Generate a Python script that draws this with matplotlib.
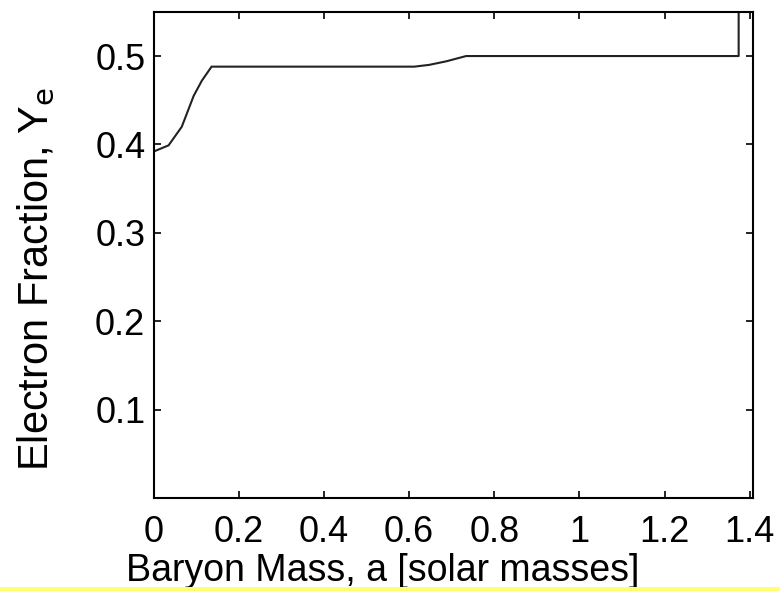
import matplotlib.pyplot as plt
from matplotlib.patches import Rectangle

# profile
mass = [0.0, 0.035, 0.066, 0.094, 0.113, 0.136, 0.25, 0.612, 0.647, 0.687, 0.734, 1.374, 1.374]
ye = [0.392, 0.399, 0.42, 0.455, 0.472, 0.488, 0.488, 0.488, 0.490, 0.494, 0.500, 0.500, 0.56]

xticks = [0, 0.2, 0.4, 0.6, 0.8, 1.0, 1.2, 1.4]
xticklabels = ["0", "0.2", "0.4", "0.6", "0.8", "1", "1.2", "1.4"]
yticks = [0.1, 0.2, 0.3, 0.4, 0.5]
yticklabels = ["0.1", "0.2", "0.3", "0.4", "0.5"]

plt.rcParams["font.family"] = ["Liberation Sans", "DejaVu Sans"]

fig = plt.figure(figsize=(7.8, 5.91), dpi=100)
ax = fig.add_axes([0.197, 0.157, 0.768, 0.823])

ax.plot(mass, ye, color="#222222", lw=1.5)

ax.set_xlim(0, 1.407)
ax.set_ylim(0, 0.55)
ax.set_xticks(xticks)
ax.set_xticklabels(xticklabels)
ax.set_yticks(yticks)
ax.set_yticklabels(yticklabels)
ax.tick_params(direction="in", length=5, width=1.2, labelsize=26, pad=6,
               top=True, right=True)
ax.tick_params(axis="x", pad=12)
for s in ax.spines.values():
    s.set_linewidth(1.5)

ax.set_xlabel("Baryon Mass, a [solar masses]", fontsize=27)
ax.xaxis.set_label_coords(0.382, -0.113)
ax.set_ylabel("Electron Fraction, Y$_\\mathrm{e}$", fontsize=30)
ax.yaxis.set_label_coords(-0.162, 0.45)

# thin yellow strip along the bottom edge
fig.patches.append(Rectangle((0, 0), 1, 0.006, transform=fig.transFigure,
                             facecolor="#ffff70", edgecolor="none"))

fig.savefig("out.png", dpi=100)
